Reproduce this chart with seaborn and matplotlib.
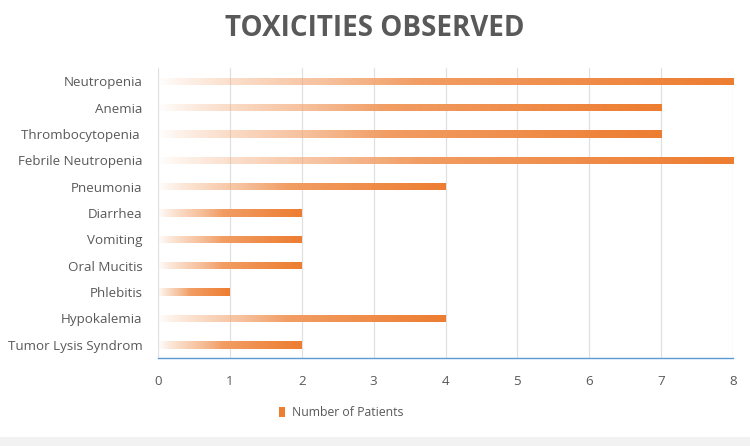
import numpy as np
import pandas as pd
import seaborn as sns
import matplotlib.pyplot as plt
from matplotlib.colors import to_rgb
from matplotlib.patches import Rectangle

# Data
toxicities = ["Neutropenia", "Anemia", "Thrombocytopenia ", "Febrile Neutropenia",
              "Pneumonia", "Diarrhea", "Vomiting", "Oral Mucitis", "Phlebitis",
              "Hypokalemia", "Tumor Lysis Syndrom"]
patients = [8, 7, 7, 8, 4, 2, 2, 2, 1, 4, 2]
x_ticks = [0, 1, 2, 3, 4, 5, 6, 7, 8]

df = pd.DataFrame({"Toxicity": toxicities, "Number of Patients": patients})

sns.set_theme(style="white")
plt.rcParams["font.family"] = ["Open Sans", "DejaVu Sans"]

orange = "#ED7D31"
light = "#F3A672"
text_col = "#595959"

fig = plt.figure(figsize=(7.5, 4.46), dpi=100)
ax = fig.add_axes([0.2107, 0.1973, 0.7667, 0.6502])

sns.barplot(data=df, y="Toxicity", x="Number of Patients", orient="h",
            color=orange, width=0.28, ax=ax)

# gradient fill: white at 0 -> full orange at bar end
n = 256
t = np.linspace(0, 1, n)
c0 = np.array(to_rgb(light))
c1 = np.array(to_rgb(orange))
w = np.clip((t - 0.3) / 0.7, 0, 1)[:, None]
rgb = c0 * (1 - w) + c1 * w
alpha = np.clip(t / 0.45, 0, 1) ** 0.8
img = np.dstack([rgb[None, :, 0], rgb[None, :, 1], rgb[None, :, 2], alpha[None, :]])

for p in ax.patches:
    x0, y0 = p.get_x(), p.get_y()
    bw, bh = p.get_width(), p.get_height()
    p.set_facecolor("none")
    p.set_edgecolor("none")
    im = ax.imshow(img, extent=[x0, x0 + bw, y0 + bh, y0], aspect="auto",
                   interpolation="bilinear", zorder=3)
    im.set_clip_path(p)

ax.set_xlim(0, 8)
ax.set_ylim(10.5, -0.5)
ax.set_xticks(x_ticks)
ax.xaxis.grid(True, color="#e0e0e0", linewidth=0.9)
ax.set_axisbelow(True)
for s in ["top", "right", "left"]:
    ax.spines[s].set_visible(False)
ax.spines["bottom"].set_color("#5B9BD5")
ax.spines["bottom"].set_linewidth(1)
ax.tick_params(axis="both", length=0, labelsize=9.6, colors=text_col)
ax.tick_params(axis="x", pad=12)
ax.tick_params(axis="y", pad=11)
ax.set_xlabel("")
ax.set_ylabel("")

fig.text(0.5, 0.935, "TOXICITIES OBSERVED", ha="center", va="center",
         fontsize=20, fontweight="bold", color=text_col)

handle = Rectangle((0, 0), 1, 1, facecolor=orange, edgecolor="none")
fig.legend([handle], ["Number of Patients"], loc="center", bbox_to_anchor=(0.455, 0.074),
           frameon=False, fontsize=8.8, labelcolor=text_col, handlelength=0.5,
           handleheight=0.9, handletextpad=0.6)

# light grey strip along the bottom edge
fig.patches.append(Rectangle((0, 0), 1, 0.02, transform=fig.transFigure,
                             facecolor="#f2f2f2", edgecolor="none"))

fig.savefig("out.png", dpi=100)
